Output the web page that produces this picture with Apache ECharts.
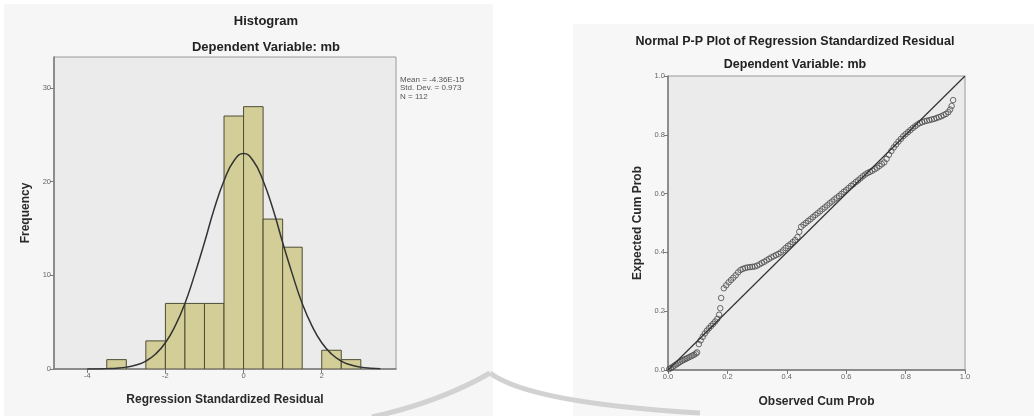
<!DOCTYPE html>
<html>
<head>
<meta charset="utf-8">
<script src="https://cdn.jsdelivr.net/npm/echarts@6/dist/echarts.min.js"></script>
<style>
html,body{margin:0;padding:0;background:#fff;}
#chart{width:1034px;height:416px;}
</style>
</head>
<body>
<div id="chart"></div>
<script>
// ---------- Histogram data ----------
const histBinStart = [-3.5, -3.0, -2.5, -2.0, -1.5, -1.0, -0.5, 0.0, 0.5, 1.0, 1.5, 2.0, 2.5];
const histBinEnd   = [-3.0, -2.5, -2.0, -1.5, -1.0, -0.5, 0.0, 0.5, 1.0, 1.5, 2.0, 2.5, 3.0];
const histCounts   = [1, 0, 3, 7, 7, 7, 27, 28, 16, 13, 0, 2, 1];

// normal curve
const curveX = [-4.0,-3.75,-3.5,-3.25,-3.0,-2.75,-2.5,-2.25,-2.0,-1.75,-1.5,-1.25,-1.0,-0.75,-0.5,-0.25,0,0.25,0.5,0.75,1.0,1.25,1.5,1.75,2.0,2.25,2.5,2.75,3.0,3.25,3.5];
const curveY = [0.01,0.01,0.04,0.09,0.2,0.42,0.85,1.6,2.8,4.6,7.0,10.1,13.5,17.1,20.1,22.2,23.0,22.2,20.1,17.1,13.5,10.1,7.0,4.6,2.8,1.6,0.85,0.42,0.2,0.09,0.04];

const histXTicks = [-4, -2, 0, 2];
const histYTicks = [0, 10, 20, 30];
const histStats = ['Mean = -4.36E-15', 'Std. Dev. = 0.973', 'N = 112'];

// ---------- P-P plot data ----------
const ppObserved = [
0.004,0.010,0.016,0.022,0.028,0.034,0.040,0.046,0.052,0.058,0.064,0.070,0.076,0.082,0.088,0.094,0.098,
0.104,0.110,0.117,0.124,0.131,0.138,0.145,0.152,0.159,0.166,0.172,0.176,0.179,
0.188,0.196,0.204,0.212,0.220,0.228,0.236,0.244,0.252,0.260,0.268,0.276,0.284,0.292,0.300,0.308,0.316,0.324,0.332,0.340,0.348,0.356,0.364,0.372,0.380,0.388,0.396,0.404,0.412,0.420,0.428,0.436,
0.442,0.448,0.456,0.464,0.472,0.480,0.488,0.496,0.504,0.512,0.520,0.528,0.536,0.544,0.552,0.560,0.568,0.576,0.584,0.592,0.600,0.608,0.616,0.624,0.632,0.640,0.648,0.656,0.664,
0.672,0.680,0.688,0.696,0.704,0.712,0.720,0.728,0.736,0.744,0.752,0.760,0.768,0.776,0.784,0.792,0.800,
0.808,0.816,0.824,0.832,0.840,0.848,0.856,0.864,0.872,0.880,0.888,0.896,0.904,0.912,0.920,0.928,0.936,0.944,0.950,0.955,0.960];
const ppExpected = [
0.003,0.007,0.011,0.015,0.019,0.023,0.027,0.031,0.034,0.037,0.040,0.043,0.046,0.049,0.052,0.056,0.060,
0.088,0.101,0.113,0.124,0.134,0.142,0.150,0.157,0.165,0.174,0.188,0.210,0.245,
0.278,0.288,0.298,0.306,0.314,0.322,0.332,0.340,0.344,0.347,0.349,0.350,0.351,0.352,0.355,0.359,0.364,0.368,0.373,0.378,0.383,0.387,0.391,0.395,0.400,0.407,0.415,0.422,0.428,0.435,0.442,0.452,
0.470,0.487,0.494,0.500,0.507,0.513,0.520,0.527,0.533,0.540,0.547,0.553,0.560,0.567,0.573,0.580,0.586,0.592,0.599,0.606,0.612,0.619,0.626,0.632,0.639,0.645,0.652,0.659,0.665,
0.670,0.674,0.678,0.683,0.688,0.694,0.700,0.706,0.718,0.732,0.745,0.757,0.767,0.777,0.786,0.795,0.802,
0.809,0.816,0.823,0.829,0.835,0.840,0.843,0.846,0.848,0.850,0.852,0.854,0.857,0.860,0.863,0.867,0.871,0.877,0.886,0.898,0.918];
const refLineX = [0, 1];
const refLineY = [0, 1];
const ppTicks = [0, 0.2, 0.4, 0.6, 0.8, 1.0];

// ---------- build ----------
const FONT = '"Liberation Sans", Arial, sans-serif';
const histData = histBinStart.map((s, i) => [s, histBinEnd[i], histCounts[i]]);
const curveData = curveX.map((x, i) => [x, curveY[i]]);
const ppData = ppObserved.map((x, i) => [x, ppExpected[i]]);
const refData = refLineX.map((x, i) => [x, refLineY[i]]);

const tickLabel = {fontFamily: FONT, fontSize: 7.5, color: '#666', margin: 3};
const axisLineStyle = {show: true, onZero: false, lineStyle: {color: '#7a7a7a', width: 1.5}};
const axisTickStyle = {show: true, length: 4, lineStyle: {color: '#7a7a7a', width: 1}};
const nameStyle = {fontFamily: FONT, fontSize: 12, fontWeight: 'bold', color: '#2a2a2a'};

const chart = echarts.init(document.getElementById('chart'), null, {renderer: 'canvas'});
const option = {
  backgroundColor: '#ffffff',
  animation: false,
  graphic: [
    {type: 'rect', z: -5, silent: true, shape: {x: 4, y: 4, width: 489, height: 412}, style: {fill: '#f6f6f6'}},
    {type: 'rect', z: -5, silent: true, shape: {x: 573, y: 24, width: 461, height: 392}, style: {fill: '#f7f7f7'}},
    {type: 'bezierCurve', z: -4, silent: true, shape: {x1: 372, y1: 417, cpx1: 440, cpy1: 402, x2: 490, y2: 373}, style: {fill: 'none', stroke: '#d2d2d2', lineWidth: 5}},
    {type: 'bezierCurve', z: -4, silent: true, shape: {x1: 490, y1: 373, cpx1: 530, cpy1: 403, x2: 700, y2: 413}, style: {fill: 'none', stroke: '#d2d2d2', lineWidth: 5}},
    {type: 'text', x: 266, y: 21, style: {text: 'Histogram', font: 'bold 13px ' + FONT, fill: '#222', textAlign: 'center', textVerticalAlign: 'middle'}},
    {type: 'text', x: 266, y: 47, style: {text: 'Dependent Variable: mb', font: 'bold 13px ' + FONT, fill: '#222', textAlign: 'center', textVerticalAlign: 'middle'}},
    {type: 'text', x: 400, y: 75, style: {text: histStats.join('\n'), font: '8px ' + FONT, lineHeight: 8.7, fill: '#555', textAlign: 'left', textVerticalAlign: 'top'}},
    {type: 'text', x: 795, y: 42, style: {text: 'Normal P-P Plot of Regression Standardized Residual', font: 'bold 12.5px ' + FONT, fill: '#222', textAlign: 'center', textVerticalAlign: 'middle'}},
    {type: 'text', x: 795, y: 65, style: {text: 'Dependent Variable: mb', font: 'bold 12.5px ' + FONT, fill: '#222', textAlign: 'center', textVerticalAlign: 'middle'}}
  ],
  grid: [
    {left: 54, top: 57, width: 342, height: 312, show: true, backgroundColor: '#ebebeb', borderColor: '#9a9a9a', borderWidth: 1},
    {left: 668, top: 76, width: 297, height: 294, show: true, backgroundColor: '#ebebeb', borderColor: '#9a9a9a', borderWidth: 1}
  ],
  xAxis: [
    {type: 'value', gridIndex: 0, min: -4.85, max: 3.9,
     name: 'Regression Standardized Residual', nameLocation: 'middle', nameGap: 25, nameTextStyle: nameStyle,
     axisLine: axisLineStyle, axisTick: Object.assign({customValues: histXTicks}, axisTickStyle),
     axisLabel: Object.assign({customValues: histXTicks}, tickLabel), splitLine: {show: false}},
    {type: 'value', gridIndex: 1, min: 0, max: 1,
     name: 'Observed Cum Prob', nameLocation: 'middle', nameGap: 26, nameTextStyle: nameStyle,
     axisLine: axisLineStyle, axisTick: Object.assign({customValues: ppTicks}, axisTickStyle),
     axisLabel: Object.assign({customValues: ppTicks, formatter: v => v.toFixed(1)}, tickLabel), splitLine: {show: false}}
  ],
  yAxis: [
    {type: 'value', gridIndex: 0, min: 0, max: 33.3,
     name: 'Frequency', nameLocation: 'middle', nameGap: 22, nameTextStyle: nameStyle,
     axisLine: axisLineStyle, axisTick: Object.assign({customValues: histYTicks}, axisTickStyle),
     axisLabel: Object.assign({customValues: histYTicks}, tickLabel), splitLine: {show: false}},
    {type: 'value', gridIndex: 1, min: 0, max: 1,
     name: 'Expected Cum Prob', nameLocation: 'middle', nameGap: 24, nameTextStyle: nameStyle,
     axisLine: axisLineStyle, axisTick: Object.assign({customValues: ppTicks}, axisTickStyle),
     axisLabel: Object.assign({customValues: ppTicks, formatter: v => v.toFixed(1)}, tickLabel), splitLine: {show: false}}
  ],
  series: [
    {type: 'custom', xAxisIndex: 0, yAxisIndex: 0, data: histData, encode: {x: [0, 1], y: 2}, clip: true,
     renderItem: function (params, api) {
       const c = api.value(2);
       if (!c) return null;
       const p0 = api.coord([api.value(0), c]);
       const p1 = api.coord([api.value(1), 0]);
       return {type: 'rect', shape: {x: p0[0], y: p0[1], width: p1[0] - p0[0], height: p1[1] - p0[1]},
               style: {fill: '#d3ce97', stroke: '#4e4c34', lineWidth: 1}};
     }},
    {type: 'line', xAxisIndex: 0, yAxisIndex: 0, data: curveData, smooth: true, showSymbol: false, symbol: 'none',
     lineStyle: {color: '#333', width: 1.5}, z: 3},
    {type: 'scatter', xAxisIndex: 1, yAxisIndex: 1, data: ppData, symbol: 'circle', symbolSize: 5.5,
     itemStyle: {color: 'rgba(0,0,0,0)', borderColor: '#484848', borderWidth: 1}},
    {type: 'line', xAxisIndex: 1, yAxisIndex: 1, data: refData, showSymbol: false, symbol: 'none',
     lineStyle: {color: '#333', width: 1.2}, z: 3}
  ]
};
chart.setOption(option);
</script>
</body>
</html>
